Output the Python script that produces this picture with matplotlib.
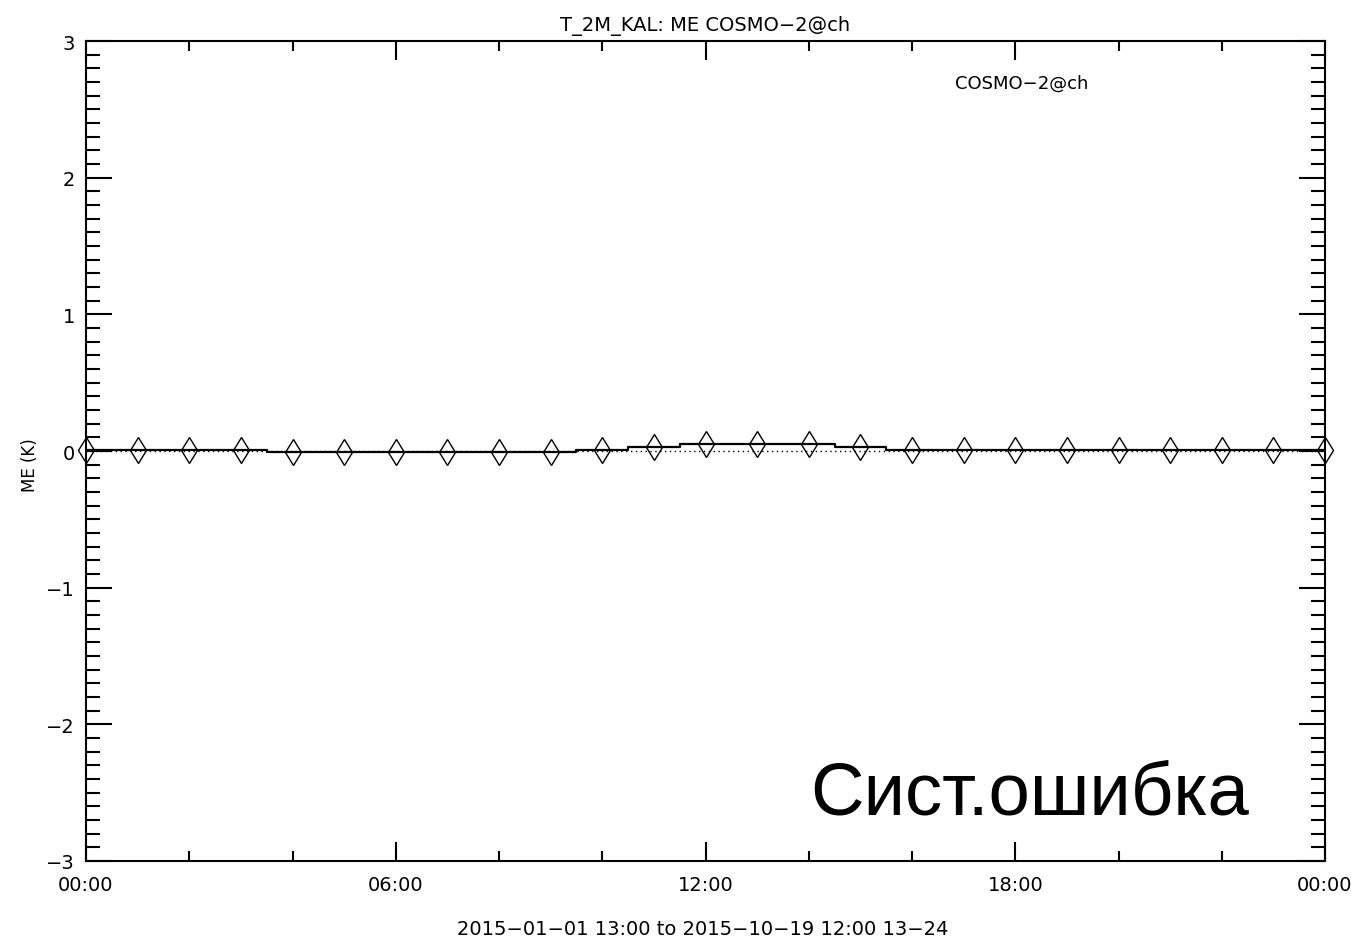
import numpy as np
import matplotlib
matplotlib.use("Agg")
import matplotlib.pyplot as plt
from matplotlib.ticker import MultipleLocator

hours = list(range(25))
me_values = [0.01, 0.01, 0.01, 0.01, -0.005, -0.005, -0.005, -0.005, -0.005, -0.005,
             0.01, 0.03, 0.05, 0.05, 0.05, 0.03, 0.01, 0.01, 0.01, 0.01,
             0.01, 0.01, 0.01, 0.01, 0.01]
xtick_pos = [0, 6, 12, 18, 24]
xtick_labels = ["00:00", "06:00", "12:00", "18:00", "00:00"]
ytick_pos = [-3, -2, -1, 0, 1, 2, 3]
ytick_labels = ["\u22123", "\u22122", "\u22121", "0", "1", "2", "3"]

plt.rcParams['font.family'] = ['DejaVu Sans']
fig = plt.figure(figsize=(13.59, 9.45), dpi=100)
ax = fig.add_axes([86/1359, 1-862/945, (1325-86)/1359, (862-42)/945])

ax.axhline(0, color='black', linestyle=(0, (1, 2.5)), lw=1.0)
ax.plot(hours, me_values, drawstyle='steps-mid', color='black', lw=1.6, clip_on=True)
ax.plot(hours, me_values, linestyle='none', marker='d', ms=13, mfc='none',
        mec='black', mew=1.0, clip_on=False, zorder=3)

ax.set_xlim(0, 24)
ax.set_ylim(-3, 3)
ax.set_xticks(xtick_pos)
ax.set_xticklabels(xtick_labels)
ax.xaxis.set_minor_locator(MultipleLocator(2))
ax.set_yticks(ytick_pos)
ax.set_yticklabels(ytick_labels)
ax.yaxis.set_minor_locator(MultipleLocator(0.1))

ax.tick_params(axis='both', which='both', direction='in', top=True, right=True,
               width=1.5, labelsize=14)
ax.tick_params(axis='x', which='major', length=14, pad=10)
ax.tick_params(axis='x', which='minor', length=7)
ax.tick_params(axis='y', which='major', length=19, pad=8)
ax.tick_params(axis='y', which='minor', length=10)
for s in ax.spines.values():
    s.set_linewidth(1.5)

ax.set_title("T_2M_KAL: ME COSMO\u22122@ch", fontsize=14, pad=8)
fig.text(30/1359, 1-465/945, "ME (K)", rotation=90, ha='center', va='center', fontsize=12)
fig.text(703/1359, 1-930/945, "2015\u221201\u221201 13:00 to 2015\u221210\u221219 12:00 13\u221224",
         ha='center', va='center', fontsize=14)
fig.text(1022/1359, 1-84/945, "COSMO\u22122@ch", ha='center', va='center', fontsize=13)
fig.text(1030/1359, 1-795/945, "Сист.ошибка", ha='center', va='center',
         fontsize=53.5, family=['Liberation Sans', 'DejaVu Sans'])

fig.savefig("out.png", dpi=100)
